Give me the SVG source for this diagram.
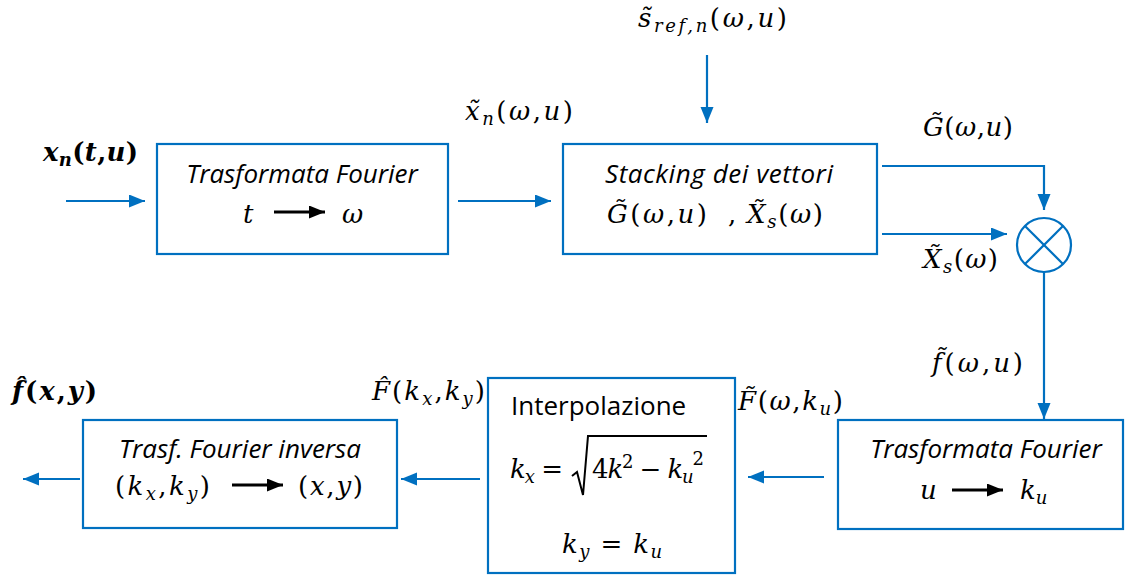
<svg xmlns="http://www.w3.org/2000/svg" width="1126" height="575" viewBox="0 0 1126 575">
<style>
.box{fill:#fff;stroke:#0070C0;stroke-width:2.2}
.con{fill:none;stroke:#0070C0;stroke-width:2.2}
.blk{fill:none;stroke:#000;stroke-width:3}
.lbl{font-family:"Open Sans","Liberation Sans",sans-serif;font-style:italic;font-size:26px;fill:#000}
.reg{font-family:"Open Sans","Liberation Sans",sans-serif;font-size:26px;fill:#000}
.m{font-family:"DejaVu Serif","Liberation Serif",serif;font-size:26px;fill:#000}
.i{font-style:italic}
.b{font-weight:bold}
.sub{font-size:18px}
</style>
<defs>
<marker id="ab" markerUnits="userSpaceOnUse" markerWidth="17" markerHeight="14" refX="16" refY="6.5" orient="auto">
<path d="M0,0 L16,6.5 L0,13 z" fill="#0070C0"/>
</marker>
<marker id="ak" markerUnits="userSpaceOnUse" markerWidth="17" markerHeight="14" refX="16" refY="6.5" orient="auto">
<path d="M0,0 L16,6.5 L0,13 z" fill="#000"/>
</marker>
</defs>

<g id="connectors">
<line class="con" x1="66" y1="201" x2="145" y2="201" marker-end="url(#ab)"/>
<line class="con" x1="458" y1="201" x2="551" y2="201" marker-end="url(#ab)"/>
<line class="con" x1="707" y1="55" x2="707" y2="123" marker-end="url(#ab)"/>
<polyline class="con" points="882,166 1044,166 1044,210" marker-end="url(#ab)"/>
<line class="con" x1="882" y1="234" x2="1007" y2="234" marker-end="url(#ab)"/>
<line class="con" x1="1044" y1="272" x2="1044" y2="419" marker-end="url(#ab)"/>
<line class="con" x1="824" y1="477" x2="748" y2="477" marker-end="url(#ab)"/>
<line class="con" x1="480" y1="479" x2="401" y2="479" marker-end="url(#ab)"/>
<line class="con" x1="80" y1="479" x2="23" y2="479" marker-end="url(#ab)"/>
</g>

<g id="labels">
<text class="m b i" x="43" y="161" textLength="95" lengthAdjust="spacing">x<tspan class="sub" dy="5">n</tspan><tspan dy="-5" font-style="normal">(</tspan>t<tspan font-style="normal">,</tspan>u<tspan font-style="normal">)</tspan></text>
<text class="m" x="465" y="120" textLength="108" lengthAdjust="spacing"><tspan class="i">x̃</tspan><tspan class="sub i" dy="5">n</tspan><tspan dy="-5">(</tspan><tspan class="i">ω</tspan>,<tspan class="i">u</tspan>)</text>
<text class="m" x="638" y="27" textLength="149" lengthAdjust="spacing"><tspan class="i">s̃</tspan><tspan class="sub i" dy="5">ref,n</tspan><tspan dy="-5">(</tspan><tspan class="i">ω</tspan>,<tspan class="i">u</tspan>)</text>
<text class="m" x="923" y="136" textLength="90" lengthAdjust="spacing"><tspan class="i">G̃</tspan>(<tspan class="i">ω</tspan>,<tspan class="i">u</tspan>)</text>
<text class="m" x="923" y="268" textLength="75" lengthAdjust="spacing"><tspan class="i">X̃</tspan><tspan class="sub i" dy="5">s</tspan><tspan dy="-5">(</tspan><tspan class="i">ω</tspan>)</text>
<text class="m" x="932" y="372" textLength="91" lengthAdjust="spacing"><tspan class="i">f̃</tspan>(<tspan class="i">ω</tspan>,<tspan class="i">u</tspan>)</text>
<text class="m" x="738" y="410" textLength="105" lengthAdjust="spacing"><tspan class="i">F̃</tspan>(<tspan class="i">ω</tspan>,<tspan class="i">k</tspan><tspan class="sub i" dy="5">u</tspan><tspan dy="-5">)</tspan></text>
<text class="m" x="372" y="400" textLength="113" lengthAdjust="spacing"><tspan class="i">F̂</tspan>(<tspan class="i">k</tspan><tspan class="sub i" dy="5">x</tspan><tspan dy="-5">,</tspan><tspan class="i">k</tspan><tspan class="sub i" dy="5">y</tspan><tspan dy="-5">)</tspan></text>
<text class="m b" x="12" y="400" textLength="85" lengthAdjust="spacing"><tspan class="i">f̂</tspan>(<tspan class="i">x</tspan>,<tspan class="i">y</tspan>)</text>
</g>

<g id="box1">
<rect class="box" x="157" y="144" width="291" height="110"/>
<text class="lbl" x="302" y="183" text-anchor="middle">Trasformata Fourier</text>
<text class="m i" x="243" y="223">t</text>
<line class="blk" x1="274" y1="212" x2="325" y2="212" marker-end="url(#ak)"/>
<text class="m i" x="342" y="223">ω</text>
</g>

<g id="box2">
<rect class="box" x="563" y="144" width="314" height="110"/>
<text class="lbl" x="719" y="183" text-anchor="middle" textLength="228" lengthAdjust="spacing">Stacking dei vettori</text>
<text class="m" x="607" y="223" textLength="100" lengthAdjust="spacing"><tspan class="i">G̃</tspan>(<tspan class="i">ω</tspan>,<tspan class="i">u</tspan>)</text>
<text class="m" x="728" y="223">,</text>
<text class="m" x="747" y="223" textLength="76" lengthAdjust="spacing"><tspan class="i">X̃</tspan><tspan class="sub i" dy="5">s</tspan><tspan dy="-5">(</tspan><tspan class="i">ω</tspan>)</text>
</g>

<g id="mult">
<circle cx="1044" cy="245" r="27" fill="#fff" stroke="#0070C0" stroke-width="2.2"/>
<line class="con" x1="1025" y1="226" x2="1063" y2="264"/>
<line class="con" x1="1063" y1="226" x2="1025" y2="264"/>
</g>

<g id="box3">
<rect class="box" x="838" y="420" width="285" height="109"/>
<text class="lbl" x="986" y="458" text-anchor="middle">Trasformata Fourier</text>
<text class="m i" x="920" y="499">u</text>
<line class="blk" x1="952" y1="490" x2="1003" y2="490" marker-end="url(#ak)"/>
<text class="m i" x="1020" y="499">k<tspan class="sub" dy="5">u</tspan></text>
</g>

<g id="box4">
<rect class="box" x="488" y="378" width="247" height="195"/>
<text class="reg" x="511" y="415">Interpolazione</text>
<text class="m" x="510" y="478" textLength="53" lengthAdjust="spacing"><tspan class="i">k</tspan><tspan class="sub i" dy="5">x</tspan><tspan dy="-5"> =</tspan></text>
<polyline points="572,476 577,472 583,495 588,436 707,436" fill="none" stroke="#000" stroke-width="2"/>
<text class="m" x="592" y="478" textLength="112" lengthAdjust="spacing">4<tspan class="i">k</tspan><tspan class="sub" dy="-10">2</tspan><tspan dy="10"> − </tspan><tspan class="i">k</tspan><tspan class="sub i" dy="5">u</tspan><tspan class="sub" dy="-18">2</tspan></text>
<text class="m" x="562" y="553" textLength="100" lengthAdjust="spacing"><tspan class="i">k</tspan><tspan class="sub i" dy="5">y</tspan><tspan dy="-5"> = </tspan><tspan class="i">k</tspan><tspan class="sub i" dy="5">u</tspan></text>
</g>

<g id="box5">
<rect class="box" x="83" y="420" width="314" height="108"/>
<text class="lbl" x="240" y="458" text-anchor="middle">Trasf. Fourier inversa</text>
<text class="m" x="115" y="495" textLength="95" lengthAdjust="spacing">(<tspan class="i">k</tspan><tspan class="sub i" dy="5">x</tspan><tspan dy="-5">,</tspan><tspan class="i">k</tspan><tspan class="sub i" dy="5">y</tspan><tspan dy="-5">)</tspan></text>
<line class="blk" x1="232" y1="485" x2="283" y2="485" marker-end="url(#ak)"/>
<text class="m" x="298" y="495" textLength="65" lengthAdjust="spacing">(<tspan class="i">x</tspan>,<tspan class="i">y</tspan>)</text>
</g>
</svg>
